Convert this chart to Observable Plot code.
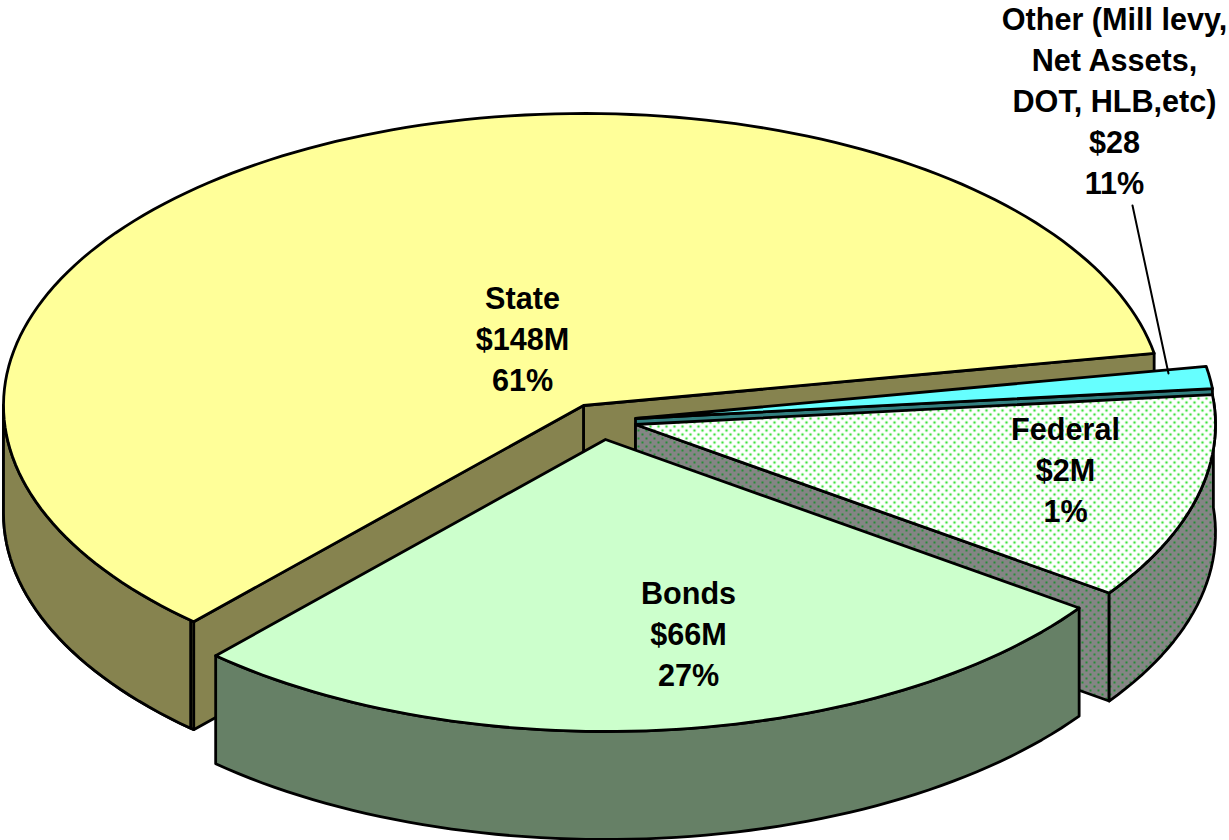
<!DOCTYPE html>
<html>
<head>
<meta charset="utf-8">
<script src="https://cdn.jsdelivr.net/npm/d3@7"></script>
<script src="https://cdn.jsdelivr.net/npm/@observablehq/plot@0.6"></script>
<style>html,body{margin:0;padding:0;background:#fff}svg{display:block}</style>
</head>
<body>
<div id="chart"></div>
<script>
// Data (wedge sizes follow the drawn wedges)
const categories = ["State", "Bonds", "Dotted", "Cyan"];
const sliceValues = [148, 66, 28, 3];
const sliceLabels = [
  "State\n$148M\n61%",
  "Bonds\n$66M\n27%",
  "Federal\n$2M\n1%",
  "Other (Mill levy,\nNet Assets,\nDOT, HLB,etc)\n$28\n11%"
];

// Layout of the tilted pie (not data)
const W = 1229, H = 840;
const RX = 580, RY = 292, DEPTH = 108, START = 10.3;
const centers = {State: [583, 405], Bonds: [605, 439], Dotted: [635, 424], Cyan: [635, 418]};
const labelAt = [[522, 336.5], [688, 631], [1065, 467], [1114, 98]];
const leader = [{x: 1132, y: 205}, {x: 1168, y: 373}];
const LW = 2.8;

const total = d3.sum(sliceValues);
let acc = START;
const angles = {};
categories.forEach((c, i) => {
  const a0 = acc; acc += sliceValues[i] / total * 360;
  angles[c] = [a0, acc];
});

const pt = (c, t, dz = 0) => ({
  x: centers[c][0] + RX * Math.cos(t * Math.PI / 180),
  y: centers[c][1] - RY * Math.sin(t * Math.PI / 180) + dz
});
const apex = (c, dz = 0) => ({x: centers[c][0], y: centers[c][1] + dz});
const arc = (c, t0, t1, dz = 0) => {
  const n = Math.max(2, Math.ceil(Math.abs(t1 - t0) / 1.5));
  return d3.range(n + 1).map(i => pt(c, t0 + (t1 - t0) * i / n, dz));
};
const poly = (pts, fill) => Plot.line(pts, {
  x: "x", y: "y", fill, stroke: "#000", strokeWidth: LW,
  curve: "linear-closed", strokeLinejoin: "round"
});
const face = (c, fill) => poly([apex(c), ...arc(c, ...angles[c])], fill);
const rim = (c, t0, t1, fill) => poly([...arc(c, t0, t1), ...arc(c, t1, t0, DEPTH)], fill);
const cut = (c, t, fill) => poly([apex(c), pt(c, t), pt(c, t, DEPTH), apex(c, DEPTH)], fill);

const defs = () => {
  const d = d3.create("svg:defs");
  const pat = (id, bg, dot, r) => {
    const p = d.append("pattern").attr("id", id).attr("patternUnits", "userSpaceOnUse")
      .attr("width", 8).attr("height", 8);
    p.append("rect").attr("width", 8).attr("height", 8).attr("fill", bg);
    [[2, 2], [6, 6]].forEach(([x, y]) =>
      p.append("circle").attr("cx", x).attr("cy", y).attr("r", r).attr("fill", dot));
  };
  pat("dotsLight", "#ffffff", "#3fe03f", 1.3);
  pat("dotsDark", "#858585", "#0c8f22", 1.05);
  return d.node();
};

const [s0, s1] = angles.State, [b0, b1] = angles.Bonds, [d0, d1] = angles.Dotted, [c0, c1] = angles.Cyan;

const labels = sliceLabels.map((text, i) => ({text, x: labelAt[i][0], y: labelAt[i][1]}));

const chart = Plot.plot({
  width: W, height: H, margin: 0,
  x: {domain: [0, W], axis: null},
  y: {domain: [H, 0], axis: null},
  marks: [
    defs,
    // State
    cut("State", s0, "#86834F"),
    cut("State", s1, "#86834F"),
    rim("State", 180, s1, "#86834F"),
    rim("State", 180, s1 - 0.4, "#86834F"),
    face("State", "#FFFF99"),
    // thin wedge
    cut("Cyan", c0, "#338080"),
    face("Cyan", "#66FFFF"),
    // dotted wedge
    cut("Dotted", d0, "url(#dotsDark)"),
    rim("Dotted", d0, d1 - 1, "url(#dotsDark)"),
    face("Dotted", "url(#dotsLight)"),
    // Bonds
    rim("Bonds", b0, b1, "#668066"),
    face("Bonds", "#CCFFCC"),
    // leader
    Plot.line(leader, {x: "x", y: "y", stroke: "#000", strokeWidth: 2}),
    Plot.text(labels, {
      x: "x", y: "y", text: "text", fill: "#000",
      fontFamily: "Liberation Sans", fontWeight: "bold", fontSize: 30.6,
      lineHeight: 1.34, textAnchor: "middle"
    })
  ]
});
document.getElementById("chart").append(chart);
</script>
</body>
</html>
